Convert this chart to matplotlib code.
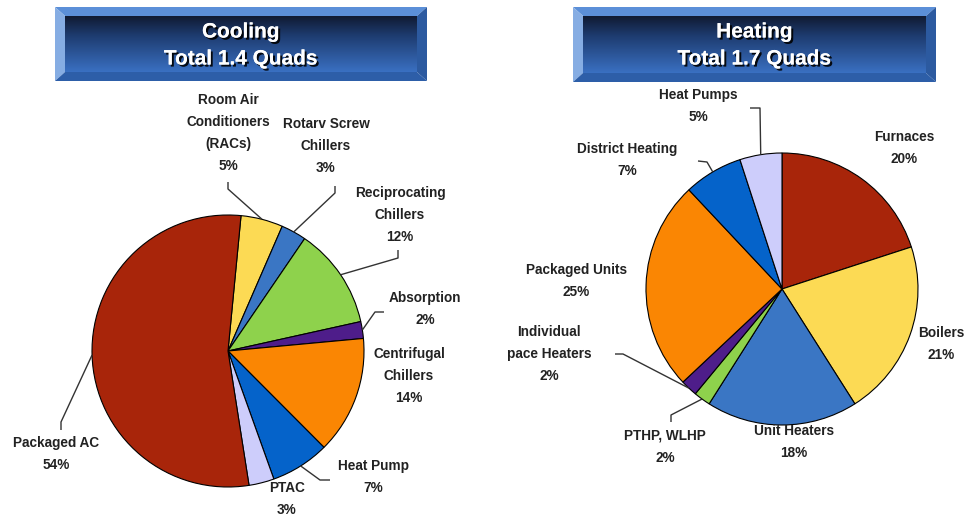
import numpy as np
import matplotlib
matplotlib.use('Agg')
import matplotlib.pyplot as plt
from matplotlib.patches import Polygon
import matplotlib.patheffects as pe

# ---------------- data ----------------
cool_title = 'Cooling\nTotal 1.4 Quads'
cool_labels = ['Room Air\nConditioners\n(RACs)', 'Rotarv Screw\nChillers', 'Reciprocating\nChillers',
               'Absorption', 'Centrifugal\nChillers', 'Heat Pump', 'PTAC', 'Packaged AC']
cool_values = [5, 3, 12, 2, 14, 7, 3, 54]

heat_title = 'Heating\nTotal 1.7 Quads'
heat_labels = ['Furnaces', 'Boilers', 'Unit Heaters', 'PTHP, WLHP', 'Individual\npace Heaters',
               'Packaged Units', 'District Heating', 'Heat Pumps']
heat_values = [20, 21, 18, 2, 2, 25, 7, 5]

# ---------------- style / layout ----------------
RED, YEL, SBLUE, GRN, PUR, ORG, BLUE, LAV = ('#A8250A', '#FCDA54', '#3A76C4', '#8ED24C',
                                             '#4E1D8A', '#FA8603', '#0563CA', '#CDCDFB')
cool_colors = [YEL, SBLUE, GRN, PUR, ORG, BLUE, LAV, RED]
heat_colors = [RED, YEL, SBLUE, GRN, PUR, ORG, BLUE, LAV]

W, H = 966, 518
def Y(y):
    return H - y

# label block: (center x, first line y) in image pixels; leader: elbow points (image px) or None
cool_layout = [((228, 100), [(228, 189), (228, 182)]),
               ((326, 124), [(335, 193), (335, 186)]),
               ((400, 193), [(398, 258), (398, 250)]),
               ((425, 298), [(375, 312), (384, 312)]),
               ((409, 354), None),
               ((373, 466), [(320, 480), (330, 480)]),
               ((287, 488), None),
               ((56, 443), [(61, 422), (61, 430)])]
heat_layout = [((904, 137), None),
               ((941, 333), None),
               ((794, 431), None),
               ((665, 436), [(671, 415), (671, 422)]),
               ((549, 332), [(623, 354), (615, 354)]),
               ((576, 270), None),
               ((627, 149), [(707, 162), (698, 161)]),
               ((698, 95), [(760, 108), (750, 108)])]

FONT = 'Liberation Sans'
TXT = '#222222'
LINE_H = 22

fig = plt.figure(figsize=(W / 100, H / 100), dpi=100)
ax = fig.add_axes([0, 0, 1, 1])


def title_box(x0, x1, y0, y1, text):
    bl, bt, br, bb = 10, 9, 10, 9
    n = 256
    t = np.linspace(0, 1, n)
    stops = np.array([[0.0, 16, 26, 50], [0.35, 30, 60, 112], [1.0, 58, 112, 194]])
    rgb = np.stack([np.interp(t, stops[:, 0], stops[:, i]) for i in (1, 2, 3)], axis=1) / 255
    img = np.repeat(rgb[:, None, :], 2, axis=1)
    ax.imshow(img, extent=(x0 + bl, x1 - br, Y(y1 - bb), Y(y0 + bt)), aspect='auto',
              interpolation='bilinear', zorder=1, origin='upper')
    ax.add_patch(Polygon([(x0, Y(y0)), (x1, Y(y0)), (x1 - br, Y(y0 + bt)), (x0 + bl, Y(y0 + bt))],
                         closed=True, fc='#5B8FD8', ec='none', zorder=2))
    ax.add_patch(Polygon([(x0, Y(y0)), (x0 + bl, Y(y0 + bt)), (x0 + bl, Y(y1 - bb)), (x0, Y(y1))],
                         closed=True, fc='#86ADE3', ec='none', zorder=2))
    ax.add_patch(Polygon([(x1, Y(y0)), (x1, Y(y1)), (x1 - br, Y(y1 - bb)), (x1 - br, Y(y0 + bt))],
                         closed=True, fc='#2C5AA0', ec='none', zorder=2))
    ax.add_patch(Polygon([(x0, Y(y1)), (x0 + bl, Y(y1 - bb)), (x1 - br, Y(y1 - bb)), (x1, Y(y1))],
                         closed=True, fc='#2D5EA8', ec='none', zorder=2))
    cx = (x0 + x1) / 2
    for i, ln in enumerate(text.split('\n')):
        ax.text(cx, Y(32 + i * 27), ln, ha='center', va='center', color='white',
                fontsize=15, fontweight='bold', family=FONT, zorder=3,
                path_effects=[pe.withSimplePatchShadow(offset=(1.5, -1.5), shadow_rgbFace='black', alpha=0.9),
                              pe.Normal()])


def draw_pie(values, colors, labels, layout, center, radius, start):
    wedges, _ = ax.pie(values, colors=colors, startangle=start, counterclock=False,
                       center=(center[0], Y(center[1])), radius=radius,
                       wedgeprops=dict(edgecolor='black', linewidth=0.8))
    total = sum(values)
    for w, lab, val, (pos, leader) in zip(wedges, labels, values, layout):
        pct = f'{round(100 * val / total)}%'
        lines = lab.split('\n') + [pct]
        for i, ln in enumerate(lines):
            ax.text(pos[0], Y(pos[1] + i * LINE_H), ln, ha='center', va='center',
                    fontsize=9.8, fontweight='bold', family=FONT, color=TXT, zorder=5)
        if leader:
            mid = np.deg2rad((w.theta1 + w.theta2) / 2)
            ex = center[0] + radius * np.cos(mid)
            ey = Y(center[1]) + radius * np.sin(mid)
            xs = [ex] + [p[0] for p in leader]
            ys = [ey] + [Y(p[1]) for p in leader]
            ax.plot(xs, ys, color='#333333', lw=1.0, zorder=4, solid_capstyle='butt')


title_box(55, 427, 7, 81, cool_title)
title_box(573, 936, 7, 82, heat_title)

draw_pie(cool_values, cool_colors, cool_labels, cool_layout, (228, 351), 136, 84.5)
draw_pie(heat_values, heat_colors, heat_labels, heat_layout, (782, 289), 136, 90)

ax.set_xlim(0, W)
ax.set_ylim(0, H)
ax.set_aspect('auto')
ax.axis('off')
fig.savefig('out.png', dpi=100)
